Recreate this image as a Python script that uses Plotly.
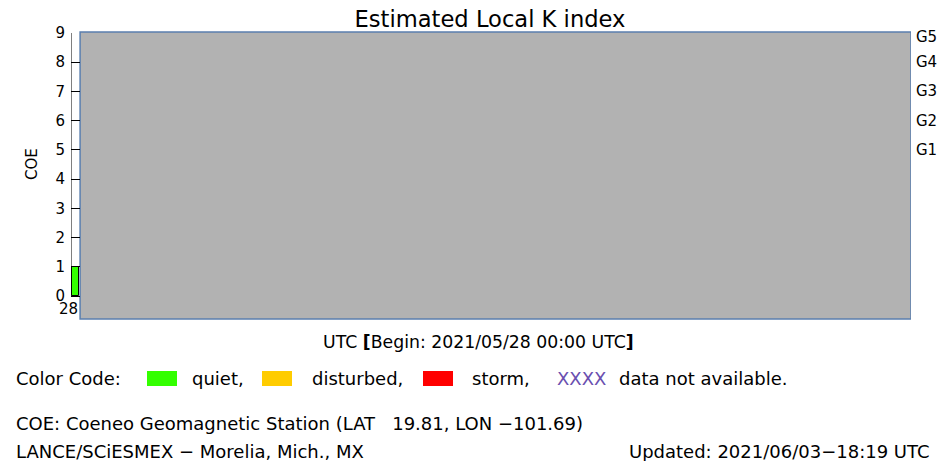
import plotly.graph_objects as go

# K index readings (only the first interval is available)
k_hours = [0.65]
k_values = [1]
k_colors = ["#33ff00"]

y_ticks = [0, 1, 2, 3, 4, 5, 6, 7, 8, 9]
g_levels = [9, 8, 7, 6, 5]
g_labels = ["G5", "G4", "G3", "G2", "G1"]

legend_names = ["quiet,", "disturbed,", "storm,"]
legend_colors = ["#33ff00", "#ffcc00", "#ff0000"]

FONT = "DejaVu Sans"
OFF = 8  # page body margin
W, H = 945 - OFF, 461 - OFF
L, R, T, B = 71 - OFF, 34, 32 - OFF, 142


def px(x):
    return (x - OFF - L) / (W - L - R)


def py(y):
    return (H - B - (y - OFF)) / (H - T - B)


fig = go.Figure()

fig.add_trace(go.Bar(
    x=k_hours, y=k_values, width=1.0,
    marker=dict(color=k_colors, line=dict(color="black", width=1)),
    showlegend=False, hoverinfo="skip",
))

# no-data region
fig.add_shape(type="rect", xref="x", yref="y domain", x0=1.3, x1=120, y0=0, y1=1,
              fillcolor="#b2b2b2", line=dict(color="#5b7fae", width=1.5), layer="below")
# left axis line from 0 to 9
fig.add_shape(type="line", xref="x", yref="y", x0=0, x1=0, y0=0, y1=9,
              line=dict(color="black", width=1))

ann = []
ann.append(dict(text="28", x=0, y=py(309), xref="x", yref="paper",
                xanchor="right", xshift=9, yanchor="middle", showarrow=False,
                font=dict(size=15)))
for lvl, lab in zip(g_levels, g_labels):
    ann.append(dict(text=lab, x=px(914), y=lvl, xref="paper", yref="y",
                    xanchor="left", yanchor="middle",
                    yshift=-4 if lvl == 9 else 0, showarrow=False, font=dict(size=15)))
ann.append(dict(text="COE", x=px(32), y=py(164), xref="paper", yref="paper",
                xanchor="center", yanchor="middle",
                textangle=-90, showarrow=False, font=dict(size=15)))
ann.append(dict(text="UTC <b>[</b>Begin: 2021/05/28 00:00 UTC<b>]</b>", x=px(478), y=py(342),
                xref="paper", yref="paper", xanchor="center", yanchor="middle",
                showarrow=False, font=dict(size=17.3)))

row_y = 378
ann.append(dict(text="Color Code:", x=px(14), y=py(row_y), xref="paper", yref="paper",
                xanchor="left", yanchor="middle", showarrow=False, font=dict(size=18)))
box_x = [147, 262, 423]
text_x = [190, 310, 470]
for bx, tx, name, col in zip(box_x, text_x, legend_names, legend_colors):
    fig.add_shape(type="rect", xref="paper", yref="paper",
                  x0=px(bx), x1=px(bx + 30), y0=py(386), y1=py(371),
                  fillcolor=col, line=dict(width=0))
    ann.append(dict(text=name, x=px(tx), y=py(row_y), xref="paper", yref="paper",
                    xanchor="left", yanchor="middle", showarrow=False, font=dict(size=18)))
ann.append(dict(text="XXXX", x=px(555), y=py(row_y), xref="paper", yref="paper",
                xanchor="left", yanchor="middle", showarrow=False,
                font=dict(size=18, color="#6a4fb0")))
ann.append(dict(text="data not available.", x=px(617), y=py(row_y), xref="paper", yref="paper",
                xanchor="left", yanchor="middle", showarrow=False, font=dict(size=18)))

ann.append(dict(text="COE: Coeneo Geomagnetic Station (LAT &nbsp; 19.81, LON \u2212101.69)",
                x=px(14), y=py(423), xref="paper", yref="paper", xanchor="left",
                yanchor="middle", showarrow=False, font=dict(size=18)))
ann.append(dict(text="LANCE/SCiESMEX \u2212 Morelia, Mich., MX", x=px(14), y=py(451),
                xref="paper", yref="paper", xanchor="left", yanchor="middle",
                showarrow=False, font=dict(size=18)))
ann.append(dict(text="Updated: 2021/06/03\u221218:19 UTC", x=px(932), y=py(451),
                xref="paper", yref="paper", xanchor="right", yanchor="middle",
                showarrow=False, font=dict(size=18)))

fig.update_layout(
    width=W, height=H,
    margin=dict(l=L, r=R, t=T, b=B, autoexpand=False),
    paper_bgcolor="white", plot_bgcolor="white",
    font=dict(family=FONT, color="black", size=15),
    title=dict(text="Estimated Local K index", x=px(490), xref="paper", xanchor="center",
               y=1 - 11 / H, yanchor="middle", font=dict(size=22.6)),
    xaxis=dict(range=[0, 120], showgrid=False, zeroline=False, showline=False,
               showticklabels=False, ticks="", automargin=False),
    yaxis=dict(range=[-0.787, 9.034], tickvals=y_ticks, ticks="inside", ticklen=9,
               tickcolor="black", tickwidth=1, showgrid=False, zeroline=False,
               showline=False, tickfont=dict(size=15), automargin=False,
               ticklabelstandoff=5),
    annotations=ann,
    bargap=0,
)

fig.write_html("out.html")
